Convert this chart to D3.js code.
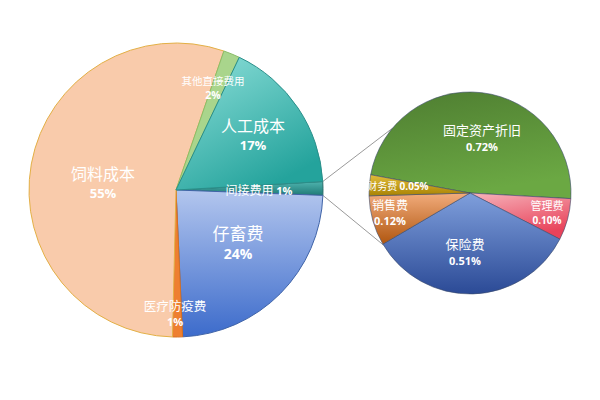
<!DOCTYPE html>
<html><head><meta charset="utf-8">
<script src="https://cdn.jsdelivr.net/npm/d3@7"></script>
<style>body{margin:0;background:#fff}svg{display:block}</style>
</head><body>
<svg id="c" width="600" height="400"></svg>
<script>
// main pie data (percent of total cost)
const mainCats = ["间接费用","仔畜费","医疗防疫费","饲料成本","其他直接费用","人工成本"];
const mainVals = [1.5, 23.7, 1.1, 54.9, 1.8, 17.0];
const mainLabels = ["1%","24%","1%","55%","2%","17%"];
// secondary pie (breakdown of 间接费用)
const subCats = ["固定资产折旧","管理费","保险费","销售费","财务费"];
const subVals = [0.72, 0.10, 0.51, 0.12, 0.05];
const subLabels = ["0.72%","0.10%","0.51%","0.12%","0.05%"];

const svg = d3.select("#c");
const defs = svg.append("defs");
function grad(id, c1, c2, x1="0", y1="0", x2="0", y2="1"){
  const g = defs.append("linearGradient").attr("id", id)
    .attr("x1",x1).attr("y1",y1).attr("x2",x2).attr("y2",y2);
  g.append("stop").attr("offset","0").attr("stop-color",c1);
  g.append("stop").attr("offset","1").attr("stop-color",c2);
}
grad("gTeal","#8fe0da","#24a39c","0","0","0.6","1");
grad("gInd","#4fb3ae","#1f7a76");
grad("gBlue","#b3c6ee","#3c6bcb");
grad("gGreen","#4e7d31","#6ba843","0","0","0.3","1");
grad("gPink","#f6b3bb","#e8425a","0","0","0.4","1");
grad("gIns","#7f9fdc","#2b4a96");
grad("gBrown","#f2ac7c","#b0560f");
grad("gGold","#e2bd3a","#a98304");

const mainFill = {"间接费用":"url(#gInd)","仔畜费":"url(#gBlue)","医疗防疫费":"#ee7f30",
  "饲料成本":"#f9cbab","其他直接费用":"#a9d58c","人工成本":"url(#gTeal)"};
const mainStroke = {"间接费用":"#2b6f6c","仔畜费":"#4064a8","医疗防疫费":"#d87020",
  "饲料成本":"#e3b046","其他直接费用":"#8bbd6a","人工成本":"#2a8f8a"};
const subFill = {"固定资产折旧":"url(#gGreen)","管理费":"url(#gPink)","保险费":"url(#gIns)",
  "销售费":"url(#gBrown)","财务费":"url(#gGold)"};

const deg = Math.PI/180;
const mcx = 176, mcy = 190, mr = 147;
const scx = 470, scy = 193, sr = 101;

const mainData = mainCats.map((c,i)=>({cat:c, v:mainVals[i], lab:mainLabels[i]}));
const subData = subCats.map((c,i)=>({cat:c, v:subVals[i], lab:subLabels[i]}));

const mainPie = d3.pie().sort(null).value(d=>d.v).startAngle(86.7*deg).endAngle(86.7*deg+2*Math.PI);
const subPie = d3.pie().sort(null).value(d=>d.v).startAngle(-79.6*deg).endAngle(-79.6*deg+2*Math.PI);
const mArcs = mainPie(mainData), sArcs = subPie(subData);
const mArc = d3.arc().innerRadius(0).outerRadius(mr);
const sArc = d3.arc().innerRadius(0).outerRadius(sr);

// connector lines
const ind = mArcs[0];
function pt(cx,cy,r,a){return [cx+r*Math.sin(a), cy-r*Math.cos(a)];}
const p1 = pt(mcx,mcy,mr,ind.startAngle), p2 = pt(mcx,mcy,mr,ind.endAngle);
const q1 = pt(scx,scy,sr,-50*deg), q2 = pt(scx,scy,sr,239*deg);
svg.append("line").attr("x1",p1[0]).attr("y1",p1[1]).attr("x2",q1[0]).attr("y2",q1[1])
  .attr("stroke","#9a9a9a").attr("stroke-width",1);
svg.append("line").attr("x1",p2[0]).attr("y1",p2[1]).attr("x2",q2[0]).attr("y2",q2[1])
  .attr("stroke","#9a9a9a").attr("stroke-width",1);

const gm = svg.append("g").attr("transform",`translate(${mcx},${mcy})`);
gm.selectAll("path").data(mArcs).join("path").attr("d",mArc)
  .attr("fill",d=>mainFill[d.data.cat]).attr("stroke",d=>mainStroke[d.data.cat]).attr("stroke-width",1);

const gs = svg.append("g").attr("transform",`translate(${scx},${scy})`);
gs.selectAll("path").data(sArcs).join("path").attr("d",sArc)
  .attr("fill",d=>subFill[d.data.cat]).attr("stroke","#3a4a6a").attr("stroke-width",0.6);

// labels
const cjk = "'Noto Sans CJK SC', sans-serif";
const lat = "'Open Sans','Liberation Sans',sans-serif";
function lab2(x,y,name,pct,fs,ps,gap){
  const g = svg.append("g").attr("fill","#fff").attr("text-anchor","middle");
  g.append("text").attr("x",x).attr("y",y).attr("font-family",cjk).attr("font-size",fs).text(name);
  g.append("text").attr("x",x).attr("y",y+gap).attr("font-family",lat).attr("font-weight","bold").attr("font-size",ps).text(pct);
}
function lab1(x,y,name,pct,fs,ps){
  const t = svg.append("text").attr("x",x).attr("y",y).attr("text-anchor","middle").attr("fill","#fff");
  t.append("tspan").attr("font-family",cjk).attr("font-size",fs).text(name+" ");
  t.append("tspan").attr("font-family",lat).attr("font-weight","bold").attr("font-size",ps).text(pct);
}
const M = i=>mainData[i], S = i=>subData[i];
lab2(213,85,M(4).cat,M(4).lab,10.5,10.5,13.5);
lab2(253,132,M(5).cat,M(5).lab,16,13,18);
lab2(103,180,M(3).cat,M(3).lab,16,13,18);
lab1(259,195,M(0).cat,M(0).lab,12,11);
lab2(238,240,M(1).cat,M(1).lab,17,14,19);
lab2(175,311,M(2).cat,M(2).lab,12.5,11,15);

lab2(482,135,S(0).cat,S(0).lab,13,11,16);
lab1(398,190,S(4).cat,S(4).lab,10,10);
lab2(390,210,S(3).cat,S(3).lab,12,11,15);
lab2(547,210,S(1).cat,S(1).lab,11,10,14);
lab2(465,249,S(2).cat,S(2).lab,13,11,16);
</script>
</body></html>
